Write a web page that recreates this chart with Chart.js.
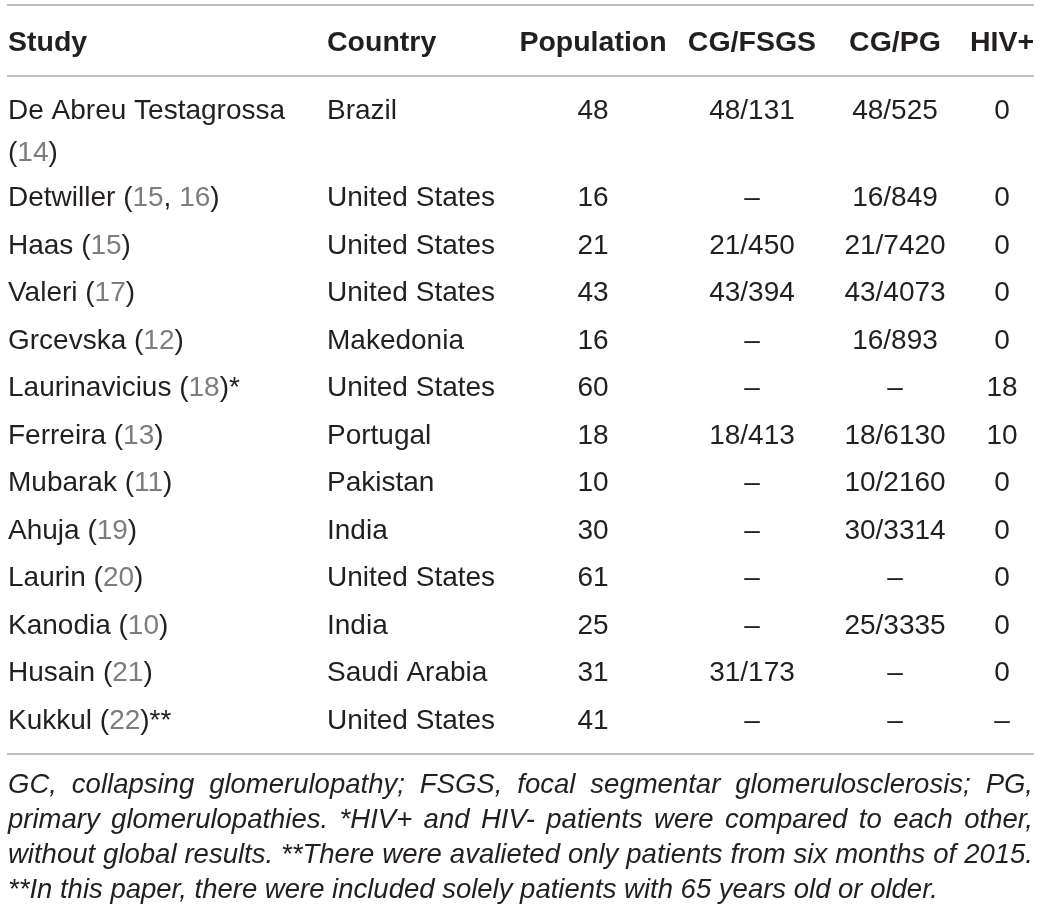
<!DOCTYPE html>
<html>
<head>
<meta charset="utf-8">
<title>Collapsing glomerulopathy studies</title>
<script src="https://cdn.jsdelivr.net/npm/chart.js@4.4.1/dist/chart.umd.min.js"></script>
<style>
  html, body { margin: 0; padding: 0; background: #fff; }
  #wrap { width: 1041px; height: 916px; }
</style>
</head>
<body>
<div id="wrap"><canvas id="table" width="1041" height="916"></canvas></div>
<script>
const columns = ["Study", "Country", "Population", "CG/FSGS", "CG/PG", "HIV+"];

const studies = ["De Abreu Testagrossa", "Detwiller", "Haas", "Valeri", "Grcevska", "Laurinavicius",
    "Ferreira", "Mubarak", "Ahuja", "Laurin", "Kanodia", "Husain", "Kukkul"];
const refs = [[14], [15, 16], [15], [17], [12], [18], [13], [11], [19], [20], [10], [21], [22]];
const notes = ["", "", "", "", "", "*", "", "", "", "", "", "", "**"];
const countries = ["Brazil", "United States", "United States", "United States", "Makedonia", "United States",
    "Portugal", "Pakistan", "India", "United States", "India", "Saudi Arabia", "United States"];
const population = [48, 16, 21, 43, 16, 60, 18, 10, 30, 61, 25, 31, 41];
const cgFsgs = ["48/131", "–", "21/450", "43/394", "–", "–", "18/413", "–", "–", "–", "–", "31/173", "–"];
const cgPg = ["48/525", "16/849", "21/7420", "43/4073", "16/893", "–", "18/6130", "10/2160", "30/3314", "–", "25/3335", "–", "–"];
const hivPos = ["0", "0", "0", "0", "0", "18", "10", "0", "0", "0", "0", "0", "–"];

const footLines = [
    "GC, collapsing glomerulopathy; FSGS, focal segmentar glomerulosclerosis; PG,",
    "primary glomerulopathies. *HIV+ and HIV- patients were compared to each other,",
    "without global results. **There were avalieted only patients from six months of 2015.",
    "**In this paper, there were included solely patients with 65 years old or older."
];

const FONT = '"Liberation Sans", Arial, Helvetica, sans-serif';
const INK = "#231f20";
const REF = "#7d7d7d";
const RULE = "#a8a8a8";

// layout, in canvas units that go through the scales
const COL_X = [8, 327, 593, 752, 895, 1002];
const COL_ALIGN = ["left", "left", "center", "center", "center", "center"];
const STUDY_MAX_W = 305;
const HEAD_Y = 51;
const FIRST_Y = 119;
const ROW_H = 47.5;
const WRAP_H = 39.5;
const LINE_H = 42;
const RULES_Y = [5, 76, 754];
const RULE_X = [7, 1034];
const FOOT_Y = 793;
const FOOT_H = 35;
const FOOT_X = [8, 1033];

function drawSegments(ctx, segs, x, y) {
    ctx.textAlign = "left";
    segs.forEach(s => {
        ctx.fillStyle = s.c;
        ctx.fillText(s.t, x, y);
        x += ctx.measureText(s.t).width;
    });
}

function refSegments(i) {
    const segs = [{ t: "(", c: INK }];
    refs[i].forEach((r, k) => {
        if (k > 0) segs.push({ t: ", ", c: INK });
        segs.push({ t: String(r), c: REF });
    });
    segs.push({ t: ")" + notes[i], c: INK });
    return segs;
}

function segWidth(ctx, segs) {
    return segs.reduce((w, s) => w + ctx.measureText(s.t).width, 0);
}

// spread words from x0 to x1; squeeze the glyphs when they do not fit
function drawJustified(ctx, text, x0, x1, y, justify) {
    const words = text.split(" ");
    const widths = words.map(w => ctx.measureText(w).width);
    const total = widths.reduce((a, b) => a + b, 0);
    const space = ctx.measureText(" ").width;
    let gap = space;
    let sx = 1;
    if (justify && words.length > 1) {
        gap = (x1 - x0 - total) / (words.length - 1);
        if (gap < space * 0.7) {
            gap = space * 0.7;
            sx = (x1 - x0) / (total + gap * (words.length - 1));
        }
    } else {
        const natural = total + gap * (words.length - 1);
        sx = Math.min(1, (x1 - x0) / natural);
    }
    ctx.save();
    ctx.translate(x0, y);
    ctx.scale(sx, 1);
    ctx.textAlign = "left";
    let cx = 0;
    words.forEach((w, k) => {
        ctx.fillText(w, cx, 0);
        cx += widths[k] + gap;
    });
    ctx.restore();
}

const tablePlugin = {
    id: "tableCells",
    beforeDraw(chart) {
        const ctx = chart.ctx;
        ctx.save();
        ctx.fillStyle = "#ffffff";
        ctx.fillRect(0, 0, chart.width, chart.height);
        ctx.restore();
    },
    afterDraw(chart) {
        const { ctx, scales: { x, y } } = chart;
        const px = v => x.getPixelForValue(v);
        const py = v => y.getPixelForValue(v);
        ctx.save();
        ctx.textBaseline = "alphabetic";

        // horizontal rules
        ctx.strokeStyle = RULE;
        ctx.lineWidth = 1.5;
        RULES_Y.forEach(v => {
            ctx.beginPath();
            ctx.moveTo(px(RULE_X[0]), py(v));
            ctx.lineTo(px(RULE_X[1]), py(v));
            ctx.stroke();
        });

        // header
        ctx.font = "bold 28.5px " + FONT;
        ctx.fillStyle = INK;
        columns.forEach((c, j) => {
            ctx.textAlign = COL_ALIGN[j];
            ctx.fillText(c, px(COL_X[j]), py(HEAD_Y));
        });

        // body rows
        ctx.font = "28px " + FONT;
        let wraps = 0;
        studies.forEach((name, i) => {
            const base = FIRST_Y + i * ROW_H + wraps * WRAP_H;
            const nameSeg = [{ t: name + " ", c: INK }];
            const refSeg = refSegments(i);
            if (segWidth(ctx, nameSeg) + segWidth(ctx, refSeg) > STUDY_MAX_W) {
                drawSegments(ctx, [{ t: name, c: INK }], px(COL_X[0]), py(base));
                drawSegments(ctx, refSeg, px(COL_X[0]), py(base + LINE_H));
                wraps++;
            } else {
                drawSegments(ctx, nameSeg.concat(refSeg), px(COL_X[0]), py(base));
            }
            const cells = [countries[i], String(population[i]), cgFsgs[i], cgPg[i], hivPos[i]];
            ctx.fillStyle = INK;
            cells.forEach((c, k) => {
                ctx.textAlign = COL_ALIGN[k + 1];
                ctx.fillText(c, px(COL_X[k + 1]), py(base));
            });
        });

        // footnote, justified except the last line
        ctx.font = "italic 27.5px " + FONT;
        ctx.fillStyle = INK;
        footLines.forEach((line, k) => {
            const last = k === footLines.length - 1;
            drawJustified(ctx, line, px(FOOT_X[0]), px(FOOT_X[1]), py(FOOT_Y + k * FOOT_H), !last);
        });
        ctx.restore();
    }
};

new Chart(document.getElementById("table"), {
    type: "scatter",
    data: { datasets: [{ data: [], pointRadius: 0 }] },
    options: {
        responsive: false,
        animation: false,
        layout: { padding: 0 },
        scales: {
            x: { type: "linear", min: 0, max: 1041, display: false },
            y: { type: "linear", min: 0, max: 916, reverse: true, display: false }
        },
        plugins: { legend: { display: false }, tooltip: { enabled: false } }
    },
    plugins: [tablePlugin]
});
</script>
</body>
</html>
